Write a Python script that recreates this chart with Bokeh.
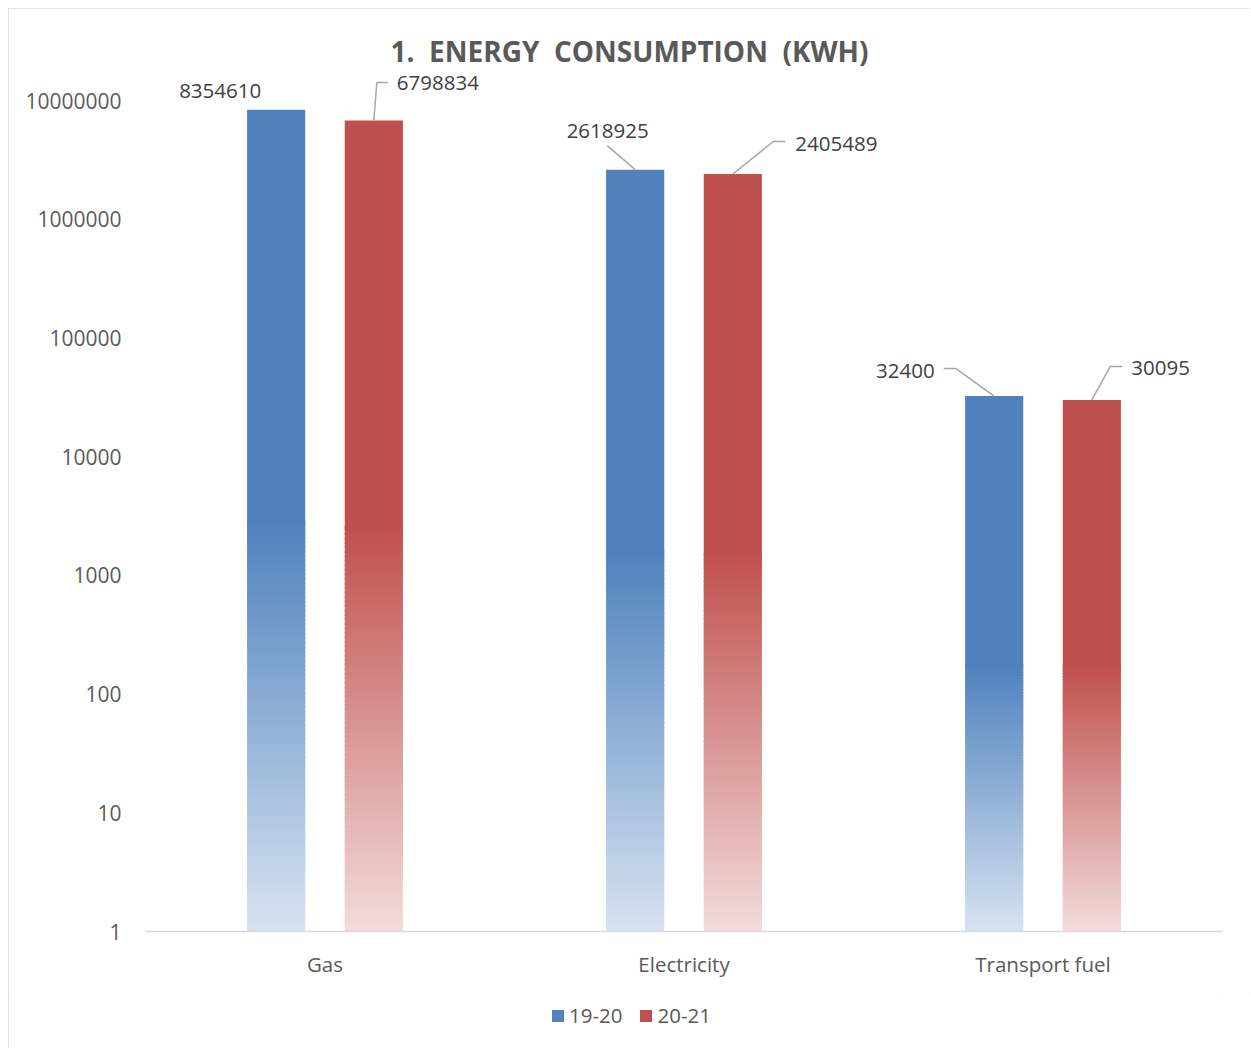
import numpy as np
from bokeh.plotting import figure
from bokeh.layouts import column
from bokeh.models import (Range1d, FixedTicker, CustomJSTickFormatter, NumeralTickFormatter,
                          ColumnDataSource, Legend, LegendItem, LogTicker)
from bokeh.core.properties import value
from bokeh.embed import file_html
from bokeh.resources import INLINE

# ---------------- data ----------------
categories = ["Gas", "Electricity", "Transport fuel"]
series_names = ["19-20", "20-21"]
values_1920 = [8354610, 2618925, 32400]
values_2021 = [6798834, 2405489, 30095]
title_text = "1.\u00a0 ENERGY\u00a0 CONSUMPTION\u00a0 (KWH)"

# ---------------- style / layout ----------------
W = 1242
H_MAIN, H_LEG = 985, 55
BL, BR, BT, BB = 137, 28, 18, 62
FRAME_W = W - BL - BR
FRAME_H = H_MAIN - BT - BB
Y_TOP_EXP = 7.624
PX_PER_X = FRAME_W / len(categories)
PX_PER_DEC = FRAME_H / Y_TOP_EXP
LEGEND_LEFT = 542  # px from chart's left edge

FONT = "Open Sans"
BLUE, RED = "#4F81BD", "#C0504D"
BLUE_LIGHT, RED_LIGHT = "#D7E3F1", "#F2DCDB"
BAR_W = 0.162
OFFSETS = [-0.136, 0.136]
GRAD_FRAC = 0.5
N_SEG = 90

# data-label placement (px offsets from bar top centre; screen y down)
label_style = {
    (0, 0): dict(dx=-56, dy=-19, align="center", leader=[]),
    (1, 0): dict(dx=23, dy=-37, align="left", leader=[(0, 0), (3, -38), (14, -38)]),
    (0, 1): dict(dx=-27.5, dy=-39, align="center", leader=[(-28, -24), (0, 0)]),
    (1, 1): dict(dx=62.5, dy=-30.5, align="left", leader=[(0, 0), (40.5, -32.5), (52.5, -32.5)]),
    (0, 2): dict(dx=-59.5, dy=-24.6, align="right", leader=[(-50.5, -27.6), (-38.5, -27.6), (0, 0)]),
    (1, 2): dict(dx=39.5, dy=-31.4, align="left", leader=[(0, 0), (18.5, -33.4), (30.5, -33.4)]),
}


def hex2rgb(h):
    h = h.lstrip("#")
    return np.array([int(h[i:i + 2], 16) for i in (0, 2, 4)], dtype=float)


def mix(c1, c2, t):
    a, b = hex2rgb(c1), hex2rgb(c2)
    c = a + (b - a) * t
    return "#%02x%02x%02x" % tuple(int(round(v)) for v in c)


p = figure(width=W, height=H_MAIN, output_backend="svg", toolbar_location=None,
           y_axis_type="log",
           x_range=Range1d(0, len(categories)),
           y_range=Range1d(1, 10 ** Y_TOP_EXP),
           min_border_left=BL, min_border_right=BR, min_border_top=BT, min_border_bottom=BB)
p.outline_line_color = None
p.background_fill_color = "white"
p.border_fill_color = "white"
p.xgrid.visible = False
p.ygrid.visible = False

series = [(values_1920, BLUE, BLUE_LIGHT), (values_2021, RED, RED_LIGHT)]

# gradient segments (lower part of each bar)
seg = dict(x=[], bottom=[], top=[], color=[])
for si, (vals, full, light) in enumerate(series):
    for ci, v in enumerate(vals):
        x = ci + 0.5 + OFFSETS[si]
        L = np.log10(v)
        G = GRAD_FRAC * L
        for k in range(N_SEG):
            b = G * k / N_SEG
            t = min(G, G * (k + 1.5) / N_SEG)
            seg["x"].append(x)
            seg["bottom"].append(10 ** b)
            seg["top"].append(10 ** t)
            seg["color"].append(mix(light, full, (k + 0.5) / N_SEG))
p.vbar(x="x", bottom="bottom", top="top", width=BAR_W, fill_color="color",
       line_color=None, source=ColumnDataSource(seg))

# solid upper parts
for si, (vals, full, light) in enumerate(series):
    xs = [ci + 0.5 + OFFSETS[si] for ci in range(len(vals))]
    bottoms = [10 ** (GRAD_FRAC * np.log10(v) * (1 - 0.5 / N_SEG)) for v in vals]
    p.vbar(x=xs, bottom=bottoms, top=vals, width=BAR_W, fill_color=full, line_color=None)

# data labels and leader lines
lab = dict(x=[], y=[], text=[], dx=[], dy=[], align=[])
lxs, lys = [], []
for si, (vals, full, light) in enumerate(series):
    for ci, v in enumerate(vals):
        st = label_style[(si, ci)]
        x = ci + 0.5 + OFFSETS[si]
        lab["x"].append(x)
        lab["y"].append(v)
        lab["text"].append(str(v))
        lab["dx"].append(st["dx"])
        lab["dy"].append(st["dy"])
        lab["align"].append(st["align"])
        if st["leader"]:
            L = np.log10(v)
            lxs.append([x + ox / PX_PER_X for ox, oy in st["leader"]])
            lys.append([10 ** (L - oy / PX_PER_DEC) for ox, oy in st["leader"]])
p.multi_line(xs=lxs, ys=lys, line_color="#A6A6A6", line_width=1.5)
p.text(x="x", y="y", text="text", x_offset="dx", y_offset="dy", text_align="align",
       text_baseline="middle", text_font=value(FONT), text_font_size="20.5px",
       text_color="#404040", source=ColumnDataSource(lab))

# title (inside frame, near top, centred on the whole chart)
title_x = (W / 2 - BL) / PX_PER_X
title_y = 10 ** ((BT + FRAME_H - 42) / PX_PER_DEC)
p.text(x=[title_x], y=[title_y], text=[title_text], text_align="center",
       text_baseline="middle", text_font=value(FONT), text_font_size="28px",
       text_font_style="bold", text_color="#595959")

# axes
xa = p.xaxis[0]
xa.ticker = FixedTicker(ticks=[i + 0.5 for i in range(len(categories))])
xa.formatter = CustomJSTickFormatter(args=dict(names=categories),
                                     code="return names[Math.floor(tick)];")
xa.axis_line_color = "#D9D9D9"
xa.axis_line_width = 1.5
xa.major_tick_line_color = None
xa.minor_tick_line_color = None
xa.major_label_standoff = 12
xa.major_label_text_font = FONT
xa.major_label_text_font_size = "20.5px"
xa.major_label_text_color = "#595959"

ya = p.yaxis[0]
ya.ticker = LogTicker(num_minor_ticks=0)
ya.formatter = NumeralTickFormatter(format="0")
ya.axis_line_color = None
ya.major_tick_line_color = None
ya.minor_tick_line_color = None
ya.major_label_standoff = 18
ya.major_label_text_font = FONT
ya.major_label_text_font_size = "21px"
ya.major_label_text_color = "#595959"

# legend in a strip below the chart (its frame is aligned with the main frame)
lf = figure(width=W, height=H_LEG, output_backend="svg", toolbar_location=None,
            x_axis_location=None, y_axis_location=None,
            x_range=Range1d(0, 1), y_range=Range1d(0, 1),
            min_border_left=0, min_border_right=0, min_border_top=0, min_border_bottom=0)
lf.grid.visible = False
lf.outline_line_color = None
lf.background_fill_color = "white"
lf.border_fill_color = "white"
leg_r = []
for full in (BLUE, RED):
    leg_r.append(lf.vbar(x=[5], bottom=[5], top=[6], width=0.1, fill_color=full, line_color=None))
legend = Legend(items=[LegendItem(label=series_names[i], renderers=[leg_r[i]]) for i in range(2)],
                orientation="horizontal", location=(LEGEND_LEFT - BL, 19),
                glyph_width=15, glyph_height=15, label_standoff=4, spacing=16,
                padding=0, margin=0, border_line_color=None, background_fill_alpha=0,
                label_text_font=FONT, label_text_font_size="20.5px", label_text_color="#595959")
lf.add_layout(legend, "center")

layout = column(p, lf, spacing=0)
layout.styles = {"position": "relative", "left": "8px", "top": "8px",
                 "outline": "1px solid #D9D9D9", "outline-offset": "-1px"}

open("out.html", "w").write(file_html(layout, INLINE))
